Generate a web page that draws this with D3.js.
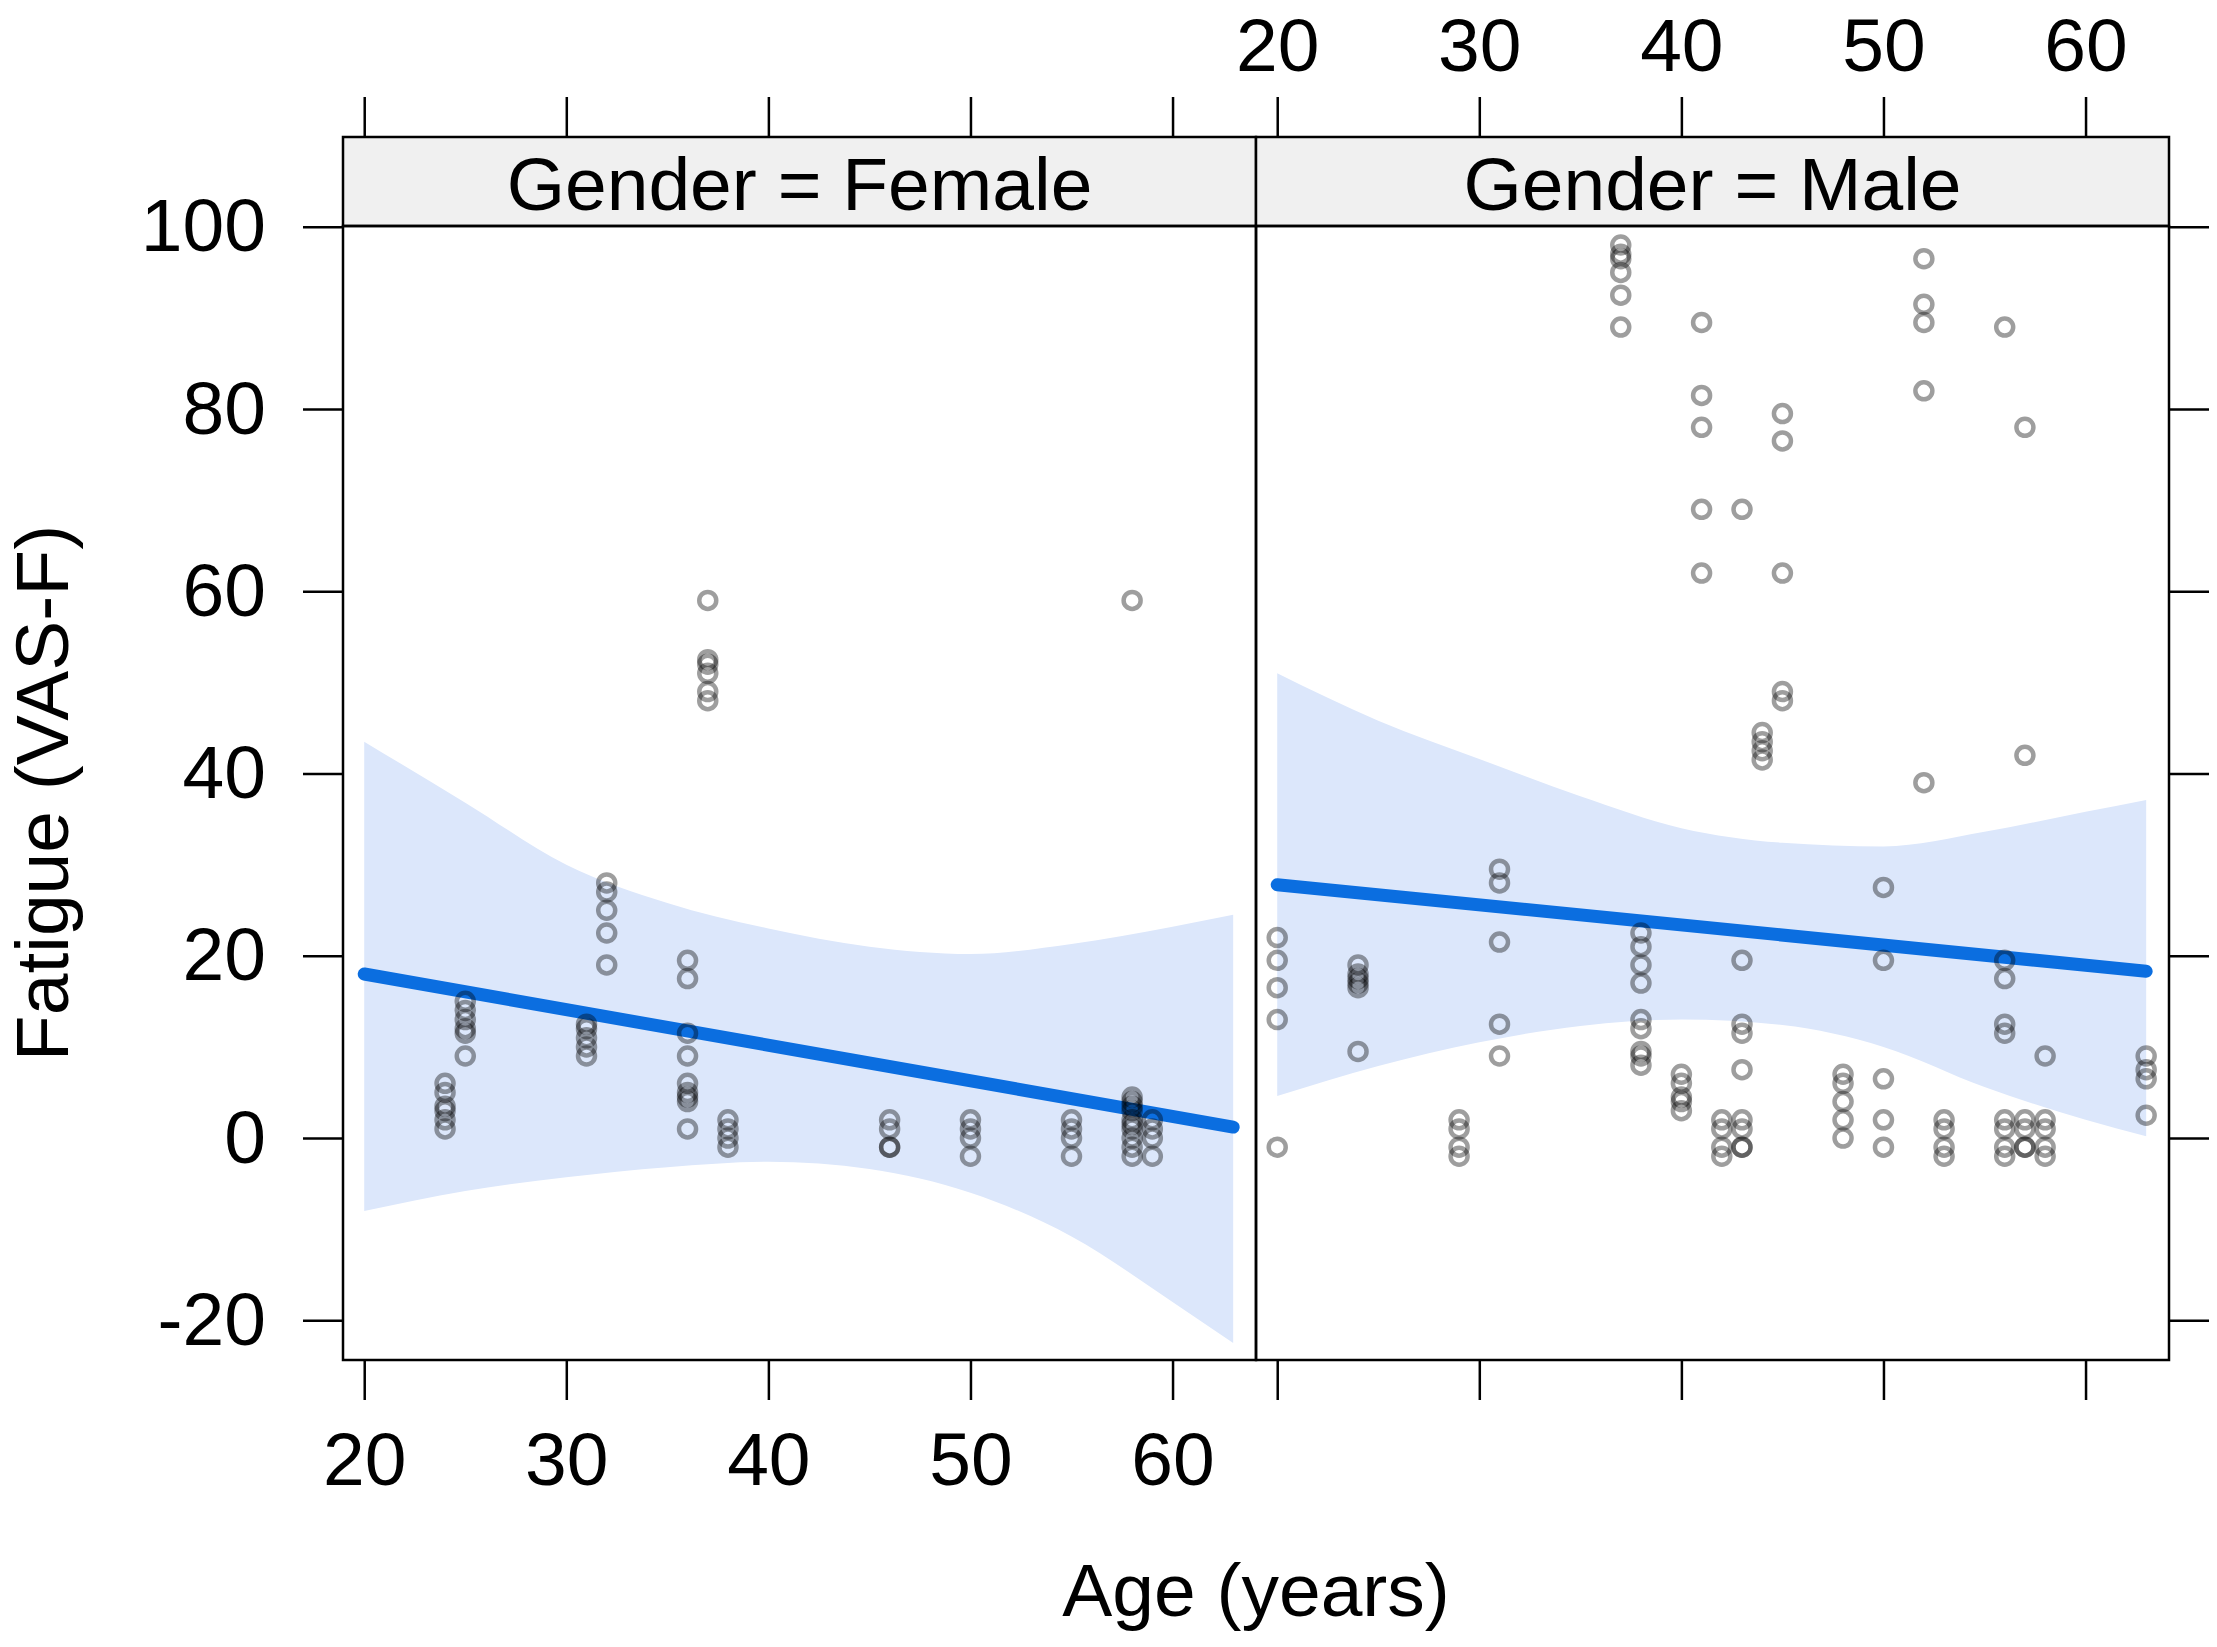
<!DOCTYPE html>
<html>
<head>
<meta charset="utf-8">
<script src="https://cdn.jsdelivr.net/npm/d3@7"></script>
<style>
  body { margin: 0; background: #fff; }
  text { font-family: "Liberation Sans", Arial, sans-serif; fill: #000; }
</style>
</head>
<body>
<div class="container"></div>
<script>
// ---- data ----
var panels = ['Female', 'Male'];

var femaleAges = [24, 25, 31, 32, 36, 37, 38, 46, 50, 55, 58, 59];
var femaleScores = [
  [6, 5, 3.5, 3, 2, 1],
  [15, 14, 13, 12, 11.5, 9],
  [12.5, 12, 11, 10, 9],
  [28, 27, 25, 22.5, 19],
  [19.5, 17.5, 11.5, 9, 6, 5, 4.5, 4, 1],
  [59, 52.5, 52, 51, 49, 48],
  [2, 1, 0, -1],
  [2, 1, -1, -1],
  [2, 1, 0, -2],
  [2, 1, 0, -2],
  [59, 4.5, 4, 3.5, 3, 2, 1.5, 1, 0, -1, -2],
  [2, 1, 0, -2]
];

var maleAges = [20, 24, 29, 31, 37, 38, 40, 41, 42, 43, 44, 45, 48, 50, 52, 53, 56, 57, 58, 63];
var maleScores = [
  [22, 19.5, 16.5, 13, -1],
  [19, 18, 17.5, 17, 16.5, 9.5],
  [2, 1, -1, -2],
  [29.5, 28, 21.5, 12.5, 9],
  [98, 97, 96.5, 95, 92.5, 89],
  [22.5, 21, 19, 17, 13, 12, 9.5, 9, 8],
  [7, 6, 4.5, 4, 3],
  [89.5, 81.5, 78, 69, 62],
  [2, 1, -1, -2],
  [69, 19.5, 12.5, 11.5, 7.5, 2, 1, -1, -1],
  [44.5, 43.5, 42.5, 41.5],
  [79.5, 76.5, 62, 49, 48],
  [7, 6, 4, 2, 0],
  [27.5, 19.5, 6.5, 2, -1],
  [96.5, 91.5, 89.5, 82, 39],
  [2, 1, -1, -2],
  [89, 19.5, 17.5, 12.5, 11.5, 2, 1, -1, -2],
  [78, 42, 2, 1, -1, -1],
  [9, 2, 1, -1, -2],
  [9, 7.5, 6.5, 2.5]
];

// fitted line end points and confidence band
var fitAges = [20, 63];
var femaleFit = [18, 1.2];
var maleFit = [27.8, 18.3];

var bandAges = [20, 25, 30, 35, 40, 45, 50, 55, 60, 63];
var femaleUpper = [43.5, 36.8, 30.0, 25.8, 23.0, 21.0, 20.2, 21.3, 23.2, 24.5];
var femaleLower = [-8.0, -5.8, -4.3, -3.2, -2.6, -3.4, -6.0, -10.8, -18.0, -22.5];
var maleUpper = [51, 45.8, 41.6, 37.5, 34.0, 32.4, 32.0, 33.6, 35.8, 37.1];
var maleLower = [4.6, 7.9, 10.5, 12.3, 13.0, 12.4, 10.0, 5.6, 2.0, 0.2];

var xTicks = [20, 30, 40, 50, 60];
var yTicks = [-20, 0, 20, 40, 60, 80, 100];

// ---- layout ----
var width = 2217, height = 1647;
var left = 343, panelW = 913;
var stripTop = 137, panelTop = 226, panelBottom = 1360;
var TICK = 40;
var fontSize = 75;

var svg = d3.select('.container')
  .append('svg')
    .attr('width', width)
    .attr('height', height);

var y = d3.scaleLinear()
  .domain([-24.36, 100.09])
  .range([panelBottom, panelTop]);

function pointsOf(ages, scores) {
  var out = [];
  ages.forEach(function (a, i) {
    scores[i].forEach(function (v) { out.push([a, v]); });
  });
  return out;
}

var panelData = [
  { name: 'Female', pts: pointsOf(femaleAges, femaleScores), fit: femaleFit, upper: femaleUpper, lower: femaleLower },
  { name: 'Male', pts: pointsOf(maleAges, maleScores), fit: maleFit, upper: maleUpper, lower: maleLower }
];

function styleAxis(ax) {
  ax.select('.domain').remove();
  ax.selectAll('line').attr('stroke', '#000').attr('stroke-width', 2.5);
  ax.selectAll('text')
    .style('font-size', fontSize + 'px')
    .style('font-family', '"Liberation Sans", Arial, sans-serif')
    .attr('fill', '#000');
}

panelData.forEach(function (p, i) {
  var x0 = left + i * panelW;
  var x = d3.scaleLinear()
    .domain([18.95, 64.13])
    .range([x0, x0 + panelW]);

  var g = svg.append('g').attr('class', 'panel');

  // confidence band
  var area = d3.area()
    .x(function (d) { return x(d); })
    .y0(function (d, k) { return y(p.lower[k]); })
    .y1(function (d, k) { return y(p.upper[k]); })
    .curve(d3.curveMonotoneX);
  g.append('path')
    .attr('d', area(bandAges))
    .attr('fill', '#dce7fb');

  // fitted line
  var line = d3.line()
    .x(function (d) { return x(d); })
    .y(function (d, k) { return y(p.fit[k]); });
  g.append('path')
    .attr('d', line(fitAges))
    .attr('fill', 'none')
    .attr('stroke', '#0b6ee0')
    .attr('stroke-width', 13)
    .attr('stroke-linecap', 'round');

  // points
  g.append('g')
    .selectAll('circle')
    .data(p.pts)
    .enter().append('circle')
      .attr('cx', function (d) { return x(d[0]); })
      .attr('cy', function (d) { return y(d[1]); })
      .attr('r', 8.5)
      .attr('fill', 'none')
      .attr('stroke', '#000')
      .attr('stroke-opacity', 0.38)
      .attr('stroke-width', 4.5);

  // strip
  g.append('rect')
    .attr('x', x0)
    .attr('y', stripTop)
    .attr('width', panelW)
    .attr('height', panelTop - stripTop)
    .attr('fill', '#f0f0f0')
    .attr('stroke', '#000')
    .attr('stroke-width', 2.5);
  g.append('text')
    .attr('x', x0 + panelW / 2)
    .attr('y', 210)
    .attr('text-anchor', 'middle')
    .style('font-size', fontSize + 'px')
    .text('Gender = ' + p.name);

  // panel border
  g.append('rect')
    .attr('x', x0)
    .attr('y', panelTop)
    .attr('width', panelW)
    .attr('height', panelBottom - panelTop)
    .attr('fill', 'none')
    .attr('stroke', '#000')
    .attr('stroke-width', 2.5);

  // x axes: labels alternate between bottom (left panel) and top (right panel)
  var bottom = d3.axisBottom(x).tickValues(xTicks).tickSize(TICK).tickSizeOuter(0).tickPadding(32).tickFormat(String);
  var top = d3.axisTop(x).tickValues(xTicks).tickSize(TICK).tickSizeOuter(0).tickPadding(26).tickFormat(String);
  if (i === 0) top.tickFormat('');
  else bottom.tickFormat('');

  styleAxis(svg.append('g')
    .attr('transform', 'translate(0,' + panelBottom + ')')
    .call(bottom));
  styleAxis(svg.append('g')
    .attr('transform', 'translate(0,' + stripTop + ')')
    .call(top));
});

// y axes: labelled on the left, ticks only on the right
styleAxis(svg.append('g')
  .attr('transform', 'translate(' + left + ',0)')
  .call(d3.axisLeft(y).tickValues(yTicks).tickSize(TICK).tickSizeOuter(0).tickPadding(37).tickFormat(String)));
styleAxis(svg.append('g')
  .attr('transform', 'translate(' + (left + 2 * panelW) + ',0)')
  .call(d3.axisRight(y).tickValues(yTicks).tickSize(TICK).tickSizeOuter(0).tickFormat('')));

// titles
svg.append('text')
  .attr('x', left + panelW)
  .attr('y', 1616)
  .attr('text-anchor', 'middle')
  .style('font-size', fontSize + 'px')
  .text('Age (years)');

svg.append('text')
  .attr('transform', 'translate(68,' + ((panelTop + panelBottom) / 2) + ') rotate(-90)')
  .attr('text-anchor', 'middle')
  .style('font-size', fontSize + 'px')
  .text('Fatigue (VAS-F)');
</script>
</body>
</html>
